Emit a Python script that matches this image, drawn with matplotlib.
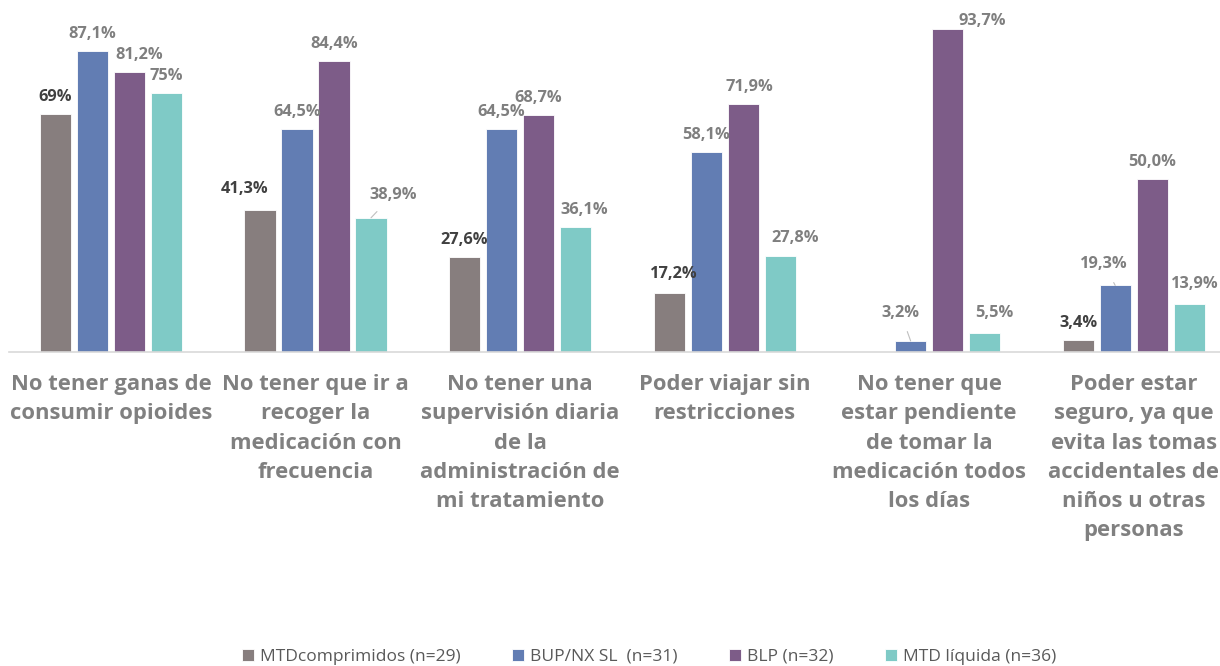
import matplotlib.pyplot as plt
import numpy as np

plt.rcParams["font.family"] = ["Open Sans", "DejaVu Sans"]

categories = [
    "No tener ganas de\nconsumir opioides",
    "No tener que ir a\nrecoger la\nmedicación con\nfrecuencia",
    "No tener una\nsupervisión diaria\nde la\nadministración de\nmi tratamiento",
    "Poder viajar sin\nrestricciones",
    "No tener que\nestar pendiente\nde tomar la\nmedicación todos\nlos días",
    "Poder estar\nseguro, ya que\nevita las tomas\naccidentales de\nniños u otras\npersonas",
]
series_names = [
    "MTDcomprimidos (n=29)",
    "BUP/NX SL  (n=31)",
    "BLP (n=32)",
    "MTD líquida (n=36)",
]
mtd_comp = [69.0, 41.3, 27.6, 17.2, np.nan, 3.4]
bup_nx = [87.1, 64.5, 64.5, 58.1, 3.2, 19.3]
blp = [81.2, 84.4, 68.7, 71.9, 93.7, 50.0]
mtd_liq = [75.0, 38.9, 36.1, 27.8, 5.5, 13.9]
label_text = [
    ["69%", "41,3%", "27,6%", "17,2%", None, "3,4%"],
    ["87,1%", "64,5%", "64,5%", "58,1%", "3,2%", "19,3%"],
    ["81,2%", "84,4%", "68,7%", "71,9%", "93,7%", "50,0%"],
    ["75%", "38,9%", "36,1%", "27,8%", "5,5%", "13,9%"],
]

colors = ["#877E7E", "#627DB3", "#7D5C88", "#7FCAC6"]

# label nudges in pixels (dx, dy above bar top); leader line where flagged
nudges = {
    (0, 1): (-15, 21), (2, 0): (10, 17), (3, 1): (22, 23, True),
    (3, 2): (9, 17), (0, 3): (5, 19), (2, 3): (6, 17), (3, 3): (15, 18),
    (1, 4): (-10, 28, True), (2, 4): (35, 8), (3, 4): (10, 20),
    (1, 5): (-11, 21, True), (3, 5): (6, 20),
}

fig = plt.figure(figsize=(12.2, 6.66), dpi=100)
ax = fig.add_axes([0.0071, 0.4715, 1.006, 0.518])

values = [mtd_comp, bup_nx, blp, mtd_liq]
x = np.arange(len(categories))
step = 0.181
width = 0.152
for i, (vals, col, name) in enumerate(zip(values, colors, series_names)):
    pos = x + (i - 1.5) * step
    ax.bar(pos, vals, width, color=col, label=name, edgecolor="white", linewidth=0.6)
    for j, v in enumerate(vals):
        if np.isnan(v):
            continue
        nd = nudges.get((i, j), (0, 17))
        dx, dy = nd[0] * 0.72, nd[1] * 0.72
        tcol = "#404040" if i == 0 else "#7F7F7F"
        arrow = None
        if len(nd) > 2:
            arrow = dict(arrowstyle="-", color="#BFBFBF", lw=0.8, shrinkA=6, shrinkB=0)
        ax.annotate(label_text[i][j], (pos[j], v), xytext=(dx, dy),
                    textcoords="offset points", ha="center", va="center",
                    fontsize=11.8, fontweight="bold", color=tcol, arrowprops=arrow)

ax.set_xlim(-0.5, len(categories) - 0.5)
ax.set_ylim(0, 100)
ax.set_xticks(x)
ax.set_xticklabels(categories, fontsize=15.8, fontweight="bold", color="#808080",
                   va="top", linespacing=1.51)
ax.tick_params(axis="x", length=0, pad=16)
ax.set_yticks([])
for s in ["top", "right", "left"]:
    ax.spines[s].set_visible(False)
ax.spines["bottom"].set_color("#D9D9D9")
ax.spines["bottom"].set_linewidth(1.2)

fig.legend(loc="center", bbox_to_anchor=(0.532, 0.014), ncol=4, frameon=False,
           fontsize=12.5, labelcolor="#595959", handlelength=0.7, handleheight=0.7,
           handletextpad=0.3, columnspacing=3.0)

fig.savefig("out.png", dpi=100)
